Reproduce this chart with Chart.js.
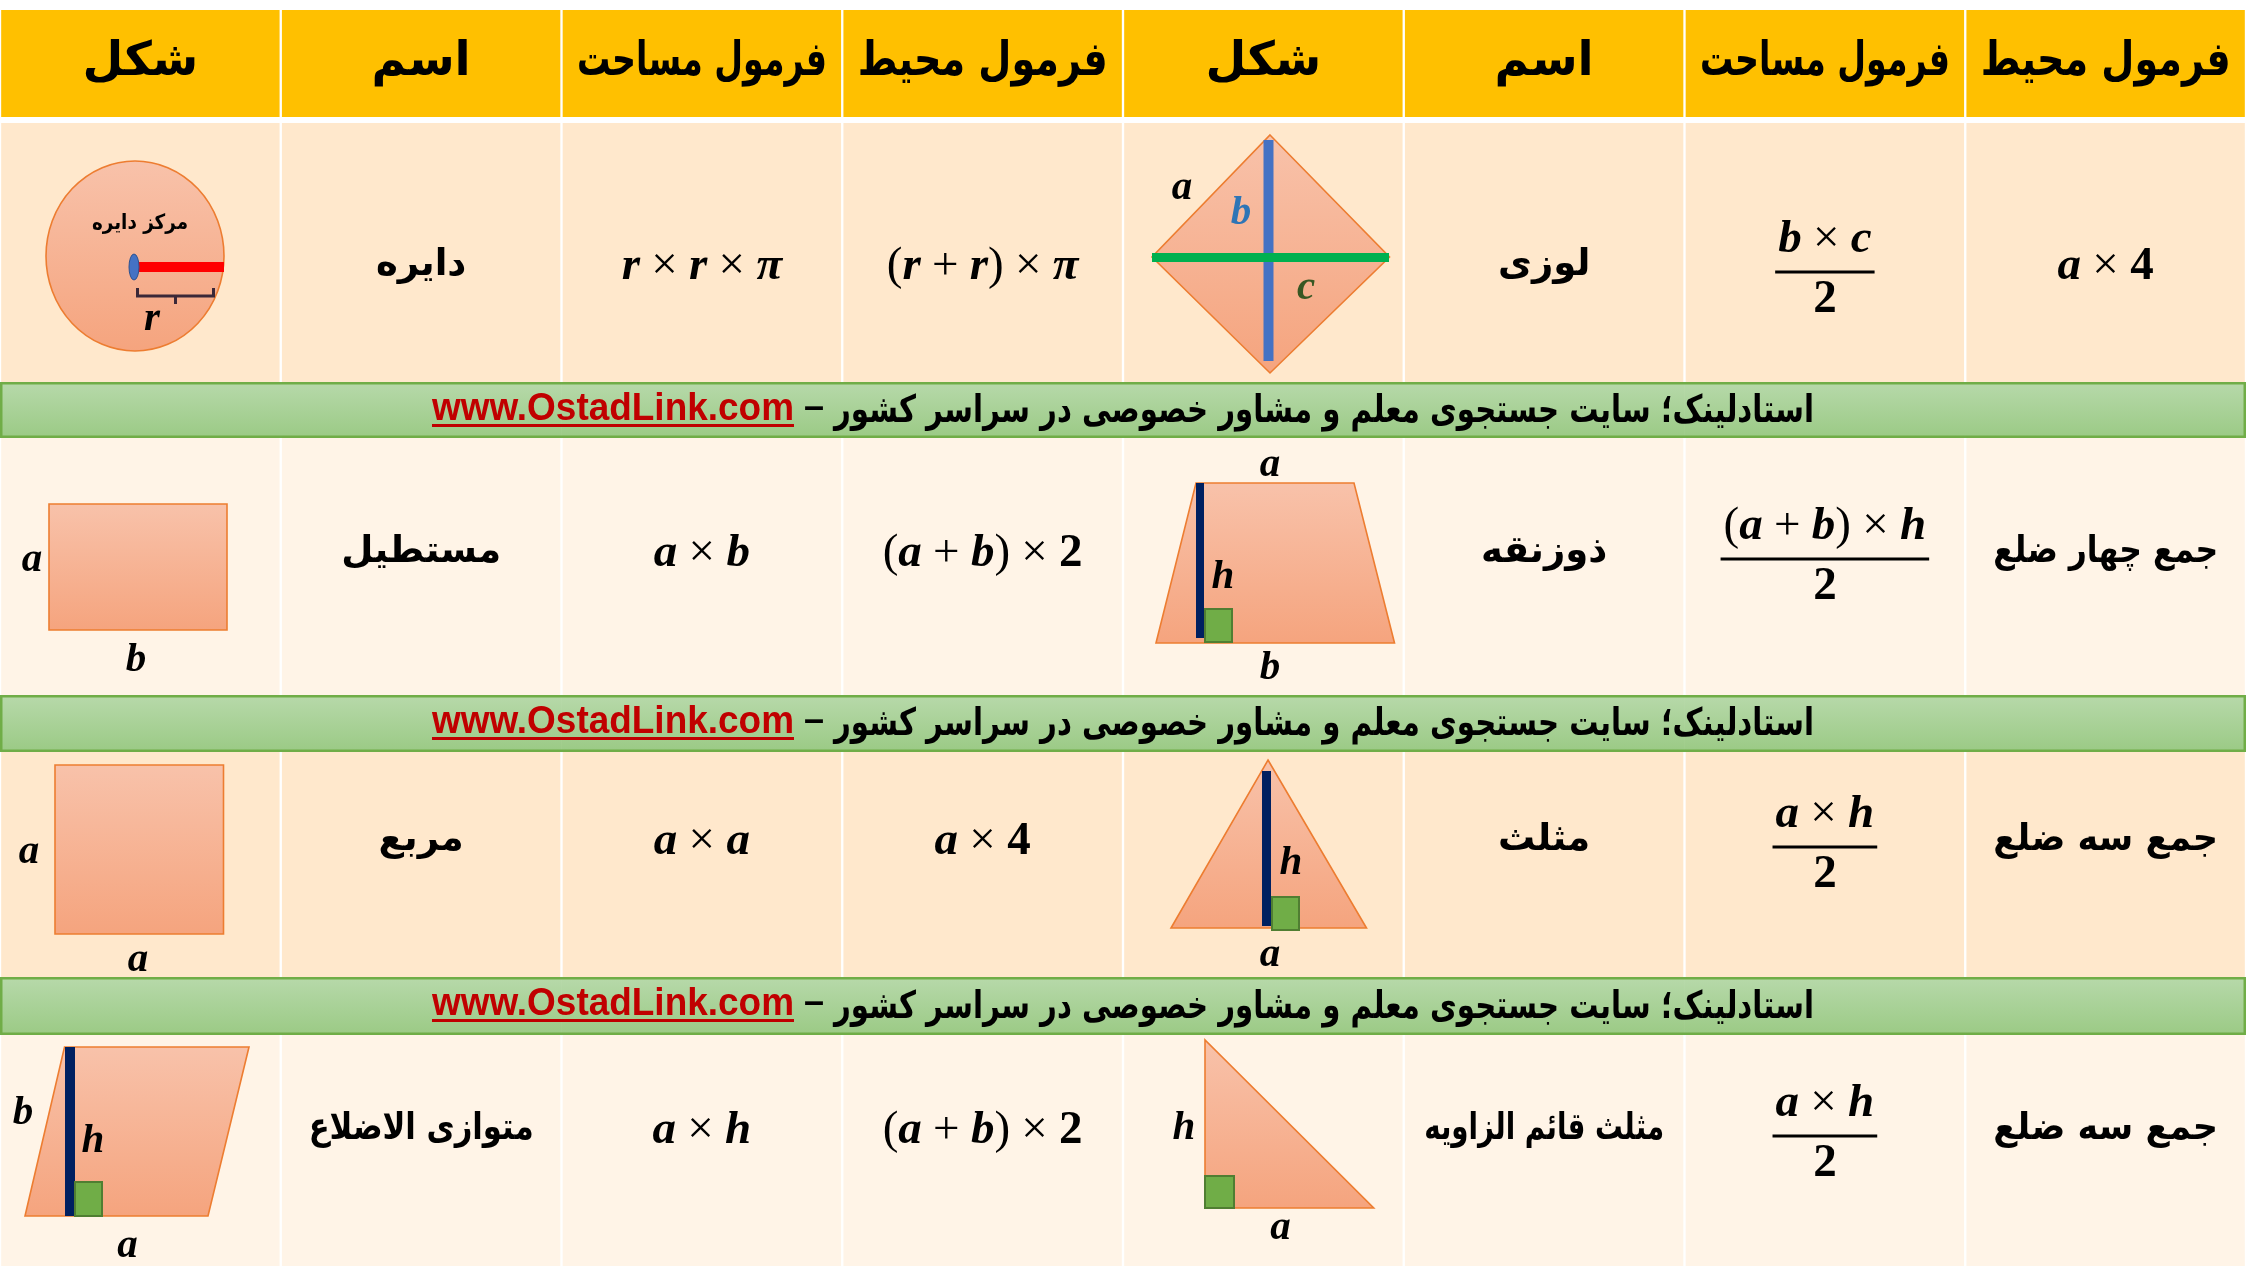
<!DOCTYPE html>
<html>
<head>
<meta charset="utf-8">
<script src="https://cdn.jsdelivr.net/npm/chart.js@4.4.1/dist/chart.umd.min.js"></script>
<style>
html,body{margin:0;padding:0;background:#ffffff;}
#wrap{width:2246px;height:1268px;}
</style>
</head>
<body>
<div id="wrap"><canvas id="c" width="2246" height="1268"></canvas></div>
<script>
// ---------------- DATA ----------------
const columnHeaders = ['شکل','اسم','فرمول مساحت','فرمول محیط','شکل','اسم','فرمول مساحت','فرمول محیط'];

const leftShapes    = ['circle','rectangle','square','parallelogram'];
const leftNames     = ['دایره','مستطیل','مربع','متوازی الاضلاع'];
const leftArea      = ['r × r × π','a × b','a × a','a × h'];
const leftPerimeter = ['(r + r) × π','(a + b) × 2','a × 4','(a + b) × 2'];

const rightShapes          = ['rhombus','trapezoid','triangle','rightTriangle'];
const rightNames           = ['لوزی','ذوزنقه','مثلث','مثلث قائم الزاویه'];
const rightAreaNumerators  = ['b × c','(a + b) × h','a × h','a × h'];
const rightAreaDenominator = ['2','2','2','2'];
const rightPerimeter       = ['a × 4','جمع چهار ضلع','جمع سه ضلع','جمع سه ضلع'];

const circleCenterLabel = 'مرکز دایره';
const bannerText = 'استادلینک؛ سایت جستجوی معلم و مشاور خصوصی در سراسر کشور';
const bannerDash = '–';
const bannerLink = 'www.OstadLink.com';

// ---------------- LAYOUT (design units = px of the reference) ----------------
const H = 1268;
const headerBand  = [10,117];
const rowBands    = [[123,382],[438,695],[752,977],[1035,1266]];
const bannerBands = [[382,438],[695,752],[977,1035]];
const rowBaselines = [279,566,854,1143];
const rowFills = ['#FFE8CC','#FFF4E7','#FFE8CC','#FFF4E7'];
const SLOT = 2246/8;
const FSIZE = 47;

const PERSIAN = '"DejaVu Sans"';
const SERIF = '"Liberation Serif"';

const colIdx = columnHeaders.map((_,i)=>i);
const bandData = b => colIdx.map(()=>[b[0], b[1]]);
const cellStyle = {
  borderColor:'#FFFFFF',
  borderWidth:{left:1.5,right:1.5,top:0,bottom:0},
  borderSkipped:false, grouped:false,
  barPercentage:1, categoryPercentage:1
};
function bannerGradient(b){
  return (c)=>{
    const ch = c.chart;
    if(!ch.chartArea || !ch.scales.y) return '#A9D08E';
    const y = ch.scales.y;
    const g = ch.ctx.createLinearGradient(0, y.getPixelForValue(b[0]), 0, y.getPixelForValue(b[1]));
    g.addColorStop(0,'#B7D9AA'); g.addColorStop(1,'#9BCA85');
    return g;
  };
}

const datasets = [
  Object.assign({label:'header', data:bandData(headerBand), backgroundColor:'#FFC000'}, cellStyle),
  ...rowBands.map((b,i)=>Object.assign({label:'row'+i, data:bandData(b), backgroundColor:rowFills[i]}, cellStyle)),
  ...bannerBands.map((b,i)=>({label:'banner'+i, data:bandData(b), backgroundColor:bannerGradient(b),
     borderWidth:0, grouped:false, barPercentage:1, categoryPercentage:1}))
];

// ---------------- DRAW HELPERS ----------------
function persianText(ctx, txt, x, y, size, maxW, color){
  ctx.save();
  ctx.direction = 'rtl';
  ctx.font = `700 ${size}px ${PERSIAN}`;
  ctx.fillStyle = color || '#000';
  ctx.textAlign = 'center';
  ctx.textBaseline = 'middle';
  if (maxW) ctx.fillText(txt, x, y, maxW); else ctx.fillText(txt, x, y);
  ctx.restore();
}
function formulaTokens(str, size){
  const toks = [];
  for (const ch of str){
    if (ch === ' '){ toks.push({ch, space:true}); continue; }
    let font;
    if (/[a-zπ]/.test(ch)) font = `italic 700 ${size}px ${SERIF}`;
    else if (/[0-9]/.test(ch)) font = `700 ${size}px ${SERIF}`;
    else font = `400 ${size}px ${SERIF}`;
    toks.push({ch, font});
  }
  return toks;
}
function drawFormula(ctx, str, cx, baseline, size){
  const toks = formulaTokens(str, size);
  ctx.save();
  ctx.direction = 'ltr';
  ctx.textAlign = 'left';
  ctx.textBaseline = 'alphabetic';
  ctx.fillStyle = '#000';
  let total = 0;
  toks.forEach(t=>{
    if (t.space){ t.w = size*0.24; }
    else { ctx.font = t.font; t.w = ctx.measureText(t.ch).width; }
    total += t.w;
  });
  let x = cx - total/2;
  toks.forEach(t=>{
    if (!t.space){ ctx.font = t.font; ctx.fillText(t.ch, x, baseline); }
    x += t.w;
  });
  ctx.restore();
  return total;
}
function drawFraction(ctx, num, den, cx, lineY, size){
  const w = drawFormula(ctx, num, cx, lineY - 20, size);
  ctx.save();
  ctx.strokeStyle = '#000'; ctx.lineWidth = 3;
  ctx.beginPath(); ctx.moveTo(cx - w/2 - 3, lineY); ctx.lineTo(cx + w/2 + 3, lineY); ctx.stroke();
  ctx.restore();
  drawFormula(ctx, den, cx, lineY + 40, size);
}
function label(ctx, txt, x, y, color){
  ctx.save();
  ctx.font = `italic 700 41px ${SERIF}`;
  ctx.fillStyle = color || '#000';
  ctx.textAlign = 'center'; ctx.textBaseline = 'middle';
  ctx.fillText(txt, x, y);
  ctx.restore();
}

const tablePlugin = {
  id:'tableContent',
  beforeDraw(chart){
    const ctx = chart.ctx;
    ctx.save(); ctx.fillStyle = '#FFFFFF'; ctx.fillRect(0,0,chart.width,chart.height); ctx.restore();
  },
  afterDatasetsDraw(chart){
    const ctx = chart.ctx;
    const xs = chart.scales.x, ys = chart.scales.y;
    const slot = xs.getPixelForValue(1) - xs.getPixelForValue(0);
    const k = slot / SLOT;
    const cellLeft = c => xs.getPixelForValue(c) - slot/2;
    const colCenter = c => xs.getPixelForValue(c);
    const Y = v => ys.getPixelForValue(v);

    // banner outlines + text
    bannerBands.forEach(b=>{
      const y0 = Y(b[0]), y1 = Y(b[1]);
      ctx.save();
      ctx.strokeStyle = '#70AD47'; ctx.lineWidth = 2.5;
      ctx.strokeRect(xs.left + 1.25, y0 + 1.25, xs.right - xs.left - 2.5, y1 - y0 - 2.5);
      ctx.restore();
      const midY = (y0 + y1)/2 + 2;
      ctx.save();
      ctx.direction = 'rtl';
      ctx.font = `700 38px ${PERSIAN}`;
      const wP = Math.min(ctx.measureText(bannerText).width, 980*k);
      ctx.direction = 'ltr';
      ctx.font = `700 39px "Liberation Sans Narrow", "Liberation Sans"`;
      const wU = Math.min(ctx.measureText(bannerLink).width, 362*k);
      ctx.font = `700 36px "Liberation Sans"`;
      const wD = ctx.measureText(bannerDash).width;
      ctx.restore();
      const gap = 10*k;
      const total = wU + gap + wD + gap + wP;
      let x = (xs.left + xs.right)/2 - total/2;
      ctx.save();
      ctx.direction = 'ltr'; ctx.textAlign = 'left'; ctx.textBaseline = 'alphabetic';
      ctx.fillStyle = '#C00000';
      ctx.font = `700 39px "Liberation Sans Narrow", "Liberation Sans"`;
      ctx.fillText(bannerLink, x, y0 + 38, 362*k);
      ctx.fillRect(x, y0 + 42, wU, 3);
      x += wU + gap;
      ctx.fillStyle = '#000';
      ctx.font = `700 36px "Liberation Sans"`;
      ctx.fillText(bannerDash, x, y0 + 36);
      x += wD + gap;
      ctx.restore();
      ctx.save();
      ctx.direction = 'rtl'; ctx.textAlign = 'right'; ctx.textBaseline = 'middle';
      ctx.fillStyle = '#000';
      ctx.font = `700 38px ${PERSIAN}`;
      ctx.fillText(bannerText, x + wP, midY, 980*k);
      ctx.restore();
    });

    // headers
    columnHeaders.forEach((h,i)=>{
      persianText(ctx, h, colCenter(i), Y(63), 47, 250*k);
    });

    function P(col, row, dx, dy){ return [cellLeft(col) + dx*k, Y(rowBands[row][0] + dy)]; }
    function poly(pts){
      ctx.beginPath(); pts.forEach((p,i)=> i ? ctx.lineTo(p[0],p[1]) : ctx.moveTo(p[0],p[1])); ctx.closePath();
    }
    function fillShape(yTop, yBot){
      const g = ctx.createLinearGradient(0, yTop, 0, yBot);
      g.addColorStop(0,'#F8C2AA'); g.addColorStop(1,'#F5A47E');
      ctx.fillStyle = g; ctx.fill();
      ctx.strokeStyle = '#ED7D31'; ctx.lineWidth = 1.6; ctx.stroke();
    }
    function rect(col,row,x0,y0,x1,y1,fill,stroke,lw){
      const a = P(col,row,x0,y0), b = P(col,row,x1,y1);
      ctx.fillStyle = fill; ctx.fillRect(a[0],a[1],b[0]-a[0],b[1]-a[1]);
      if (stroke){ ctx.strokeStyle = stroke; ctx.lineWidth = lw||2; ctx.strokeRect(a[0],a[1],b[0]-a[0],b[1]-a[1]); }
    }
    function lab(col,row,txt,dx,dy,color){ const p = P(col,row,dx,dy); label(ctx, txt, p[0], p[1], color); }

    function drawShape(kind, col, row){
      ctx.save();
      const top = rowBands[row][0];
      if (kind === 'circle'){
        const c = P(col,row,135,133);
        ctx.beginPath(); ctx.ellipse(c[0], c[1], 89*k, 95, 0, 0, Math.PI*2);
        fillShape(c[1]-95, c[1]+95);
        const t = P(col,row,140,101);
        persianText(ctx, circleCenterLabel, t[0], t[1], 21, 96*k);
        rect(col,row,134,139,224,149,'#FF0000');
        const d = P(col,row,134,144);
        ctx.beginPath(); ctx.ellipse(d[0], d[1], 5*k, 13, 0, 0, Math.PI*2);
        ctx.fillStyle = '#4472C4'; ctx.fill(); ctx.strokeStyle = '#2F528F'; ctx.lineWidth = 1; ctx.stroke();
        ctx.strokeStyle = '#3B2838'; ctx.lineWidth = 3;
        ctx.beginPath();
        let p = P(col,row,137.5,165); ctx.moveTo(p[0],p[1]);
        p = P(col,row,137.5,173); ctx.lineTo(p[0],p[1]);
        p = P(col,row,213.5,173); ctx.lineTo(p[0],p[1]);
        p = P(col,row,213.5,165); ctx.lineTo(p[0],p[1]);
        p = P(col,row,175.5,173); ctx.moveTo(p[0],p[1]);
        p = P(col,row,175.5,181); ctx.lineTo(p[0],p[1]);
        ctx.stroke();
        lab(col,row,'r',152,196);
      } else if (kind === 'rhombus'){
        poly([P(col,row,147,12),P(col,row,266.5,134),P(col,row,147,250),P(col,row,29,134)]);
        fillShape(Y(top+12), Y(top+250));
        rect(col,row,140.5,17,150.5,238,'#4472C4');
        rect(col,row,29,130,266,139,'#00B050');
        lab(col,row,'a',59,65);
        lab(col,row,'b',118,90,'#2E75B6');
        lab(col,row,'c',183,165,'#385723');
      } else if (kind === 'rectangle'){
        poly([P(col,row,49,66),P(col,row,227,66),P(col,row,227,192),P(col,row,49,192)]);
        fillShape(Y(top+66), Y(top+192));
        lab(col,row,'a',32,122);
        lab(col,row,'b',136,222);
      } else if (kind === 'trapezoid'){
        poly([P(col,row,73,45),P(col,row,231,45),P(col,row,271.5,205),P(col,row,33,205)]);
        fillShape(Y(top+45), Y(top+205));
        rect(col,row,73,45,81,200,'#002060');
        rect(col,row,82,171,109,204,'#70AD47','#507E32',2);
        lab(col,row,'a',147,27);
        lab(col,row,'h',100,139);
        lab(col,row,'b',147,230);
      } else if (kind === 'square'){
        poly([P(col,row,55,13),P(col,row,223.5,13),P(col,row,223.5,182),P(col,row,55,182)]);
        fillShape(Y(top+13), Y(top+182));
        lab(col,row,'a',29,100);
        lab(col,row,'a',138,208);
      } else if (kind === 'triangle'){
        poly([P(col,row,145,8),P(col,row,243.5,176),P(col,row,48,176)]);
        fillShape(Y(top+8), Y(top+176));
        rect(col,row,139,19,148,174,'#002060');
        rect(col,row,149,145,176,178,'#70AD47','#507E32',2);
        lab(col,row,'h',168,111);
        lab(col,row,'a',147,203);
      } else if (kind === 'parallelogram'){
        poly([P(col,row,64.5,12),P(col,row,249,12),P(col,row,208,181),P(col,row,25,181)]);
        fillShape(Y(top+12), Y(top+181));
        rect(col,row,65,12,75,181,'#002060');
        rect(col,row,75,147,102,181,'#70AD47','#507E32',2);
        lab(col,row,'b',23,78);
        lab(col,row,'h',93,106);
        lab(col,row,'a',127.5,211);
      } else if (kind === 'rightTriangle'){
        poly([P(col,row,82,5),P(col,row,82,173),P(col,row,250.7,173)]);
        fillShape(Y(top+5), Y(top+173));
        rect(col,row,82,141,111,173,'#70AD47','#507E32',2);
        lab(col,row,'h',61,93);
        lab(col,row,'a',157.6,193);
      }
      ctx.restore();
    }

    // rows
    for (let r = 0; r < rowBands.length; r++){
      const base = Y(rowBaselines[r]);
      persianText(ctx, leftNames[r], colCenter(1), base - 14, 37, 225*k);
      drawFormula(ctx, leftArea[r], colCenter(2), base, FSIZE);
      drawFormula(ctx, leftPerimeter[r], colCenter(3), base, FSIZE);
      persianText(ctx, rightNames[r], colCenter(5), base - 14, 37, 240*k);
      drawFraction(ctx, rightAreaNumerators[r], rightAreaDenominator[r], colCenter(6), base - 7, FSIZE);
      if (/[a-z]/.test(rightPerimeter[r])) drawFormula(ctx, rightPerimeter[r], colCenter(7), base, FSIZE);
      else persianText(ctx, rightPerimeter[r], colCenter(7), base - 14, 37, 225*k);
      drawShape(leftShapes[r], 0, r);
      drawShape(rightShapes[r], 4, r);
    }
  }
};

new Chart(document.getElementById('c'), {
  type:'bar',
  data:{ labels: columnHeaders, datasets },
  options:{
    responsive:false, animation:false, devicePixelRatio:1,
    layout:{padding:0},
    plugins:{legend:{display:false}, tooltip:{enabled:false}, title:{display:false}},
    scales:{
      x:{type:'category', display:false, offset:true, grid:{display:false}},
      y:{type:'linear', display:false, min:0, max:H, reverse:true, grid:{display:false}}
    },
    events:[]
  },
  plugins:[tablePlugin]
});
</script>
</body>
</html>
